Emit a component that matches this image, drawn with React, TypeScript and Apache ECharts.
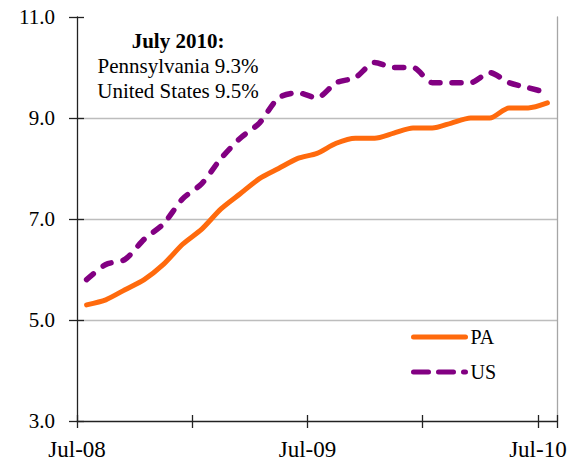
import React, { useEffect, useRef } from 'react';
import * as echarts from 'echarts';

const months = [
  'Jul-08', 'Aug-08', 'Sep-08', 'Oct-08', 'Nov-08', 'Dec-08',
  'Jan-09', 'Feb-09', 'Mar-09', 'Apr-09', 'May-09', 'Jun-09',
  'Jul-09', 'Aug-09', 'Sep-09', 'Oct-09', 'Nov-09', 'Dec-09',
  'Jan-10', 'Feb-10', 'Mar-10', 'Apr-10', 'May-10', 'Jun-10', 'Jul-10',
];
const paRate = [5.3, 5.4, 5.6, 5.8, 6.1, 6.5, 6.8, 7.2, 7.5, 7.8, 8.0, 8.2, 8.3, 8.5, 8.6, 8.6, 8.7, 8.8, 8.8, 8.9, 9.0, 9.0, 9.2, 9.2, 9.3];
const usRate = [5.8, 6.1, 6.2, 6.6, 6.9, 7.4, 7.7, 8.2, 8.6, 8.9, 9.4, 9.5, 9.4, 9.7, 9.8, 10.1, 10.0, 10.0, 9.7, 9.7, 9.7, 9.9, 9.7, 9.6, 9.5];
const seriesNames = ['PA', 'US'];
const yMin = 3;
const yMax = 11;
const yStep = 2;
const annotationLines = ['July 2010:', 'Pennsylvania 9.3%', 'United States 9.5%'];

const FONT = 'Liberation Serif';
const PA_COLOR = '#FF6A0D';
const US_COLOR = '#820082';

export default function App() {
  const ref = useRef<HTMLDivElement>(null);
  useEffect(() => {
    if (!ref.current) return;
    const chart = echarts.init(ref.current, undefined, { renderer: 'svg' });
    const yBase = { type: 'value', min: yMin, max: yMax, interval: yStep };
    chart.setOption({
      animation: false,
      backgroundColor: '#ffffff',
      textStyle: { fontFamily: FONT },
      grid: { left: 77, right: 20, top: 17, bottom: 44 },
      legend: {
        orient: 'vertical',
        left: 406,
        top: 322,
        itemWidth: 52,
        itemHeight: 1,
        itemGap: 15,
        lineStyle: { width: 5, cap: 'round' },
        textStyle: { fontFamily: FONT, fontSize: 20, color: '#000' },
        data: [
          { name: seriesNames[0] },
          { name: seriesNames[1], lineStyle: { type: [15, 10], width: 5, cap: 'round' } },
        ],
      },
      xAxis: [
        {
          type: 'category',
          data: months,
          boundaryGap: true,
          axisLine: { lineStyle: { color: '#222', width: 1.3 } },
          axisTick: { show: true, interval: 5, length: 7, lineStyle: { color: '#222', width: 1.3 } },
          axisLabel: {
            interval: 11,
            margin: 17,
            fontFamily: FONT,
            fontSize: 23,
            color: '#000',
            padding: [0, 19, 0, 0],
          },
          splitLine: { show: false },
        },
        {
          type: 'category',
          data: months,
          position: 'bottom',
          boundaryGap: true,
          axisLine: { show: false },
          axisTick: { show: true, inside: true, interval: 5, length: 6, lineStyle: { color: '#222', width: 1.3 } },
          axisLabel: { show: false },
          splitLine: { show: false },
        },
      ],
      yAxis: [
        {
          ...yBase,
          position: 'left',
          axisLine: { show: true, lineStyle: { color: '#222', width: 1.3 } },
          axisTick: { show: true, length: 8, lineStyle: { color: '#222', width: 1.3 } },
          axisLabel: {
            margin: 22,
            fontFamily: FONT,
            fontSize: 21,
            color: '#000',
            formatter: (v: number) => v.toFixed(1),
          },
          splitLine: { show: true, showMinLine: false, showMaxLine: false, lineStyle: { color: '#BDBDBD', width: 1.3 } },
        },
        {
          ...yBase,
          position: 'right',
          axisLine: { show: true, lineStyle: { color: '#A6A6A6', width: 1.3 } },
          axisTick: { show: false },
          axisLabel: { show: false },
          splitLine: { show: false },
        },
        {
          ...yBase,
          position: 'left',
          axisLine: { show: false },
          axisTick: { show: true, inside: true, length: 7, lineStyle: { color: '#222', width: 1.3 } },
          axisLabel: { show: false },
          splitLine: { show: false },
        },
      ],
      series: [
        {
          name: seriesNames[0],
          type: 'line',
          data: paRate,
          symbol: 'none',
          smooth: 0.25,
          color: PA_COLOR,
          lineStyle: { color: PA_COLOR, width: 5, cap: 'round', join: 'round' },
          z: 3,
        },
        {
          name: seriesNames[1],
          type: 'line',
          data: usRate,
          symbol: 'none',
          smooth: 0.25,
          color: US_COLOR,
          lineStyle: { color: US_COLOR, width: 5.5, type: [9, 12], cap: 'round', join: 'round' },
          z: 3,
        },
      ],
      graphic: annotationLines.map((t, i) => ({
        type: 'text',
        x: 178,
        y: 30 + i * 25,
        style: {
          text: t,
          fontFamily: FONT,
          fontSize: 21,
          fontWeight: i === 0 ? 'bold' : 'normal',
          fill: '#000',
          textAlign: 'center',
          textVerticalAlign: 'top',
        },
      })),
    });
    return () => chart.dispose();
  }, []);
  return (
    <div
      ref={ref}
      style={{ position: 'fixed', left: 0, top: 0, width: 577, height: 465, background: '#fff' }}
    />
  );
}
